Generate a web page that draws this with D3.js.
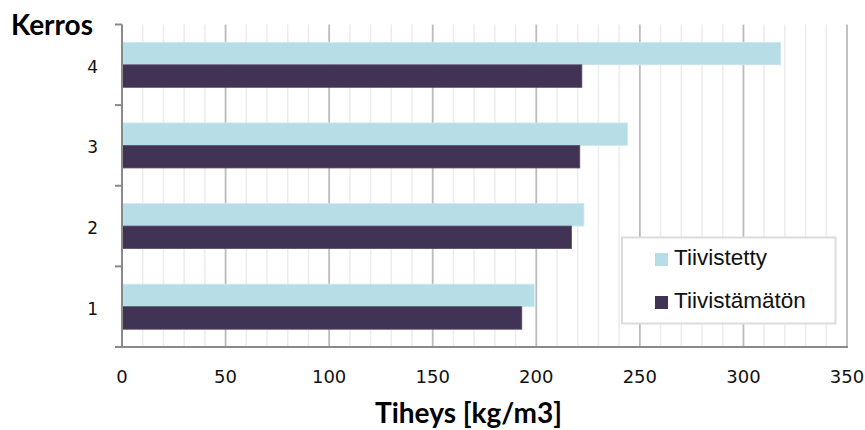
<!DOCTYPE html>
<html>
<head>
<meta charset="utf-8">
<script src="https://cdn.jsdelivr.net/npm/d3@7"></script>
<style>
  html, body { margin: 0; padding: 0; background: #fff; }
  svg { display: block; }
</style>
</head>
<body>
<svg id="chart" width="865" height="430"></svg>
<script>
const categories = ["4", "3", "2", "1"];
const seriesNames = ["Tiivistetty", "Tiivistämätön"];
const tiivistetty = [318, 244, 223, 199];
const tiivistamaton = [222, 221, 217, 193];
const xTicks = [0, 50, 100, 150, 200, 250, 300, 350];
const colors = ["#b7dde6", "#413353"];

const svg = d3.select("#chart");
const pLeft = 122, pRight = 847, pTop = 24.5, pBottom = 347;

const x = d3.scaleLinear().domain([0, 350]).range([pLeft, pRight]);
const y = d3.scaleBand().domain(categories).range([pTop, pBottom]).padding(0);
const ySub = d3.scaleBand().domain(seriesNames).range([0, y.bandwidth()]).paddingInner(0).paddingOuter(0.79);

// minor gridlines
const minor = d3.range(10, 351, 10).filter(v => v % 50 !== 0);
svg.append("g").selectAll("line").data(minor).join("line")
  .attr("x1", d => x(d)).attr("x2", d => x(d))
  .attr("y1", pTop).attr("y2", pBottom)
  .attr("stroke", "#ececec").attr("stroke-width", 1.5);
// major gridlines
svg.append("g").selectAll("line").data(xTicks.filter(v => v > 0)).join("line")
  .attr("x1", d => x(d)).attr("x2", d => x(d))
  .attr("y1", pTop).attr("y2", pBottom)
  .attr("stroke", "#bcbcbc").attr("stroke-width", 1.8);

// bars
const data = categories.map((c, i) => ({ cat: c, vals: [tiivistetty[i], tiivistamaton[i]] }));
const groups = svg.append("g").selectAll("g").data(data).join("g")
  .attr("transform", d => `translate(0,${y(d.cat)})`);
groups.selectAll("rect").data(d => d.vals.map((v, j) => ({ name: seriesNames[j], v, j }))).join("rect")
  .attr("x", x(0))
  .attr("y", d => ySub(d.name))
  .attr("width", d => x(d.v) - x(0))
  .attr("height", ySub.bandwidth())
  .attr("fill", d => colors[d.j])
  .attr("stroke", d => d.j === 0 ? "#cfe8ee" : "#5a4d6a")
  .attr("stroke-width", 0.8);

// y axis
const yAxisG = svg.append("g");
yAxisG.append("line").attr("x1", pLeft).attr("x2", pLeft).attr("y1", pTop).attr("y2", pBottom)
  .attr("stroke", "#8a8a8a").attr("stroke-width", 2);
const bounds = categories.map(c => y(c)).concat([pBottom]);
yAxisG.selectAll("line.tick").data(bounds).join("line").attr("class", "tick")
  .attr("x1", pLeft - 7).attr("x2", pLeft).attr("y1", d => d).attr("y2", d => d)
  .attr("stroke", "#8a8a8a").attr("stroke-width", 2);
yAxisG.selectAll("text").data(categories).join("text")
  .attr("x", 98).attr("y", d => y(d) + y.bandwidth() / 2 + 8)
  .attr("text-anchor", "end")
  .attr("font-family", "DejaVu Sans, sans-serif").attr("font-size", 17).attr("fill", "#111")
  .text(d => d);

// x axis
svg.append("line").attr("x1", pLeft - 1).attr("x2", pRight + 1).attr("y1", pBottom).attr("y2", pBottom)
  .attr("stroke", "#8a8a8a").attr("stroke-width", 2);
svg.append("g").selectAll("text").data(xTicks).join("text")
  .attr("x", d => x(d)).attr("y", 383)
  .attr("text-anchor", "middle")
  .attr("font-family", "DejaVu Sans, sans-serif").attr("font-size", 18).attr("fill", "#111")
  .text(d => d);

// titles
svg.append("text").attr("x", 52).attr("y", 35).attr("text-anchor", "middle")
  .attr("font-family", "Lato, sans-serif").attr("font-weight", "bold").attr("font-size", 28).attr("fill", "#000")
  .text("Kerros");
svg.append("text").attr("x", 468.5).attr("y", 423).attr("text-anchor", "middle")
  .attr("font-family", "Lato, sans-serif").attr("font-weight", "bold").attr("font-size", 28).attr("fill", "#000")
  .text("Tiheys [kg/m3]");

// legend
const lg = svg.append("g");
lg.append("rect").attr("x", 622).attr("y", 237.5).attr("width", 213.5).attr("height", 86)
  .attr("fill", "#fff").attr("stroke", "#dcdcdc").attr("stroke-width", 2);
seriesNames.forEach((n, i) => {
  const yy = 253 + i * 43;
  lg.append("rect").attr("x", 655).attr("y", yy).attr("width", 13).attr("height", 13).attr("fill", colors[i]);
  lg.append("text").attr("x", 674).attr("y", yy + 12)
    .attr("font-family", "Liberation Sans, Arial, sans-serif").attr("font-size", 22.5).attr("fill", "#111")
    .text(n);
});
</script>
</body>
</html>
